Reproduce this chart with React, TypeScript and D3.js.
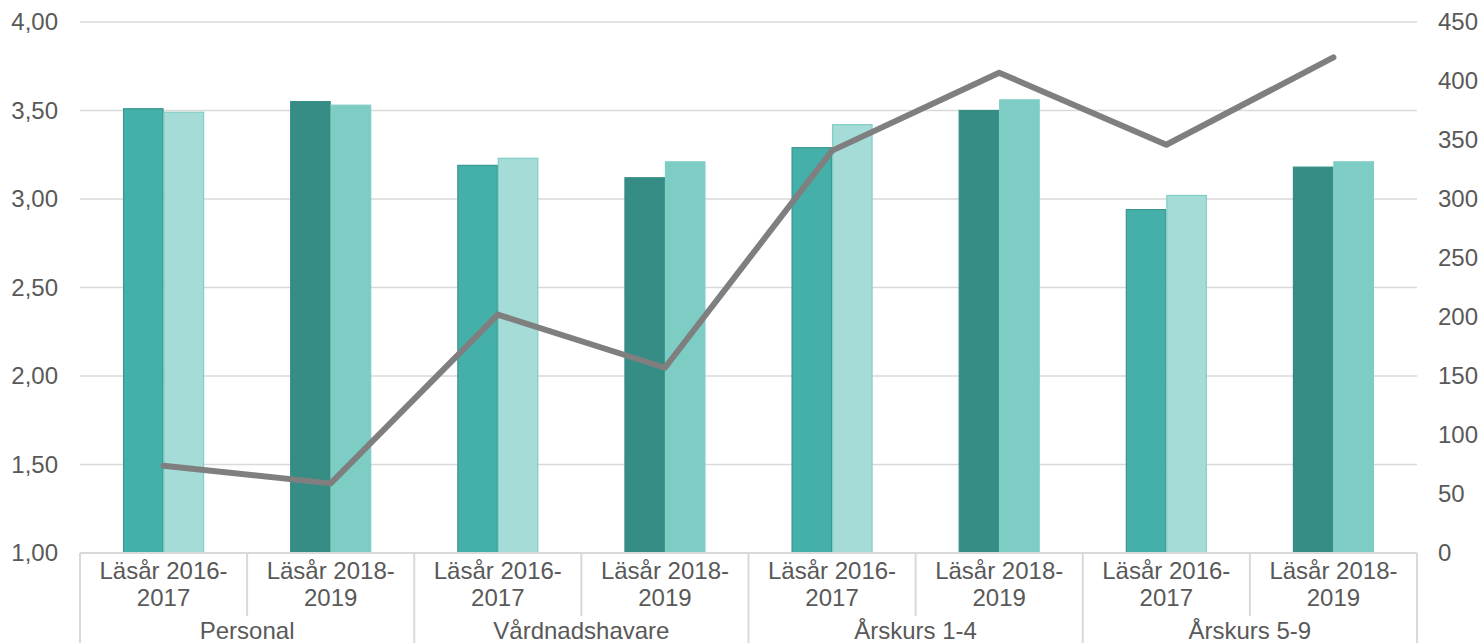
import * as d3 from 'd3';
import React from 'react';

// values
const groups = ['Personal', 'Vårdnadshavare', 'Årskurs 1-4', 'Årskurs 5-9'];
const periods = ['Läsår 2016-2017', 'Läsår 2018-2019'];
const seriesA = [3.51, 3.55, 3.19, 3.12, 3.29, 3.50, 2.94, 3.18];
const seriesB = [3.49, 3.53, 3.23, 3.21, 3.42, 3.56, 3.02, 3.21];
const lineValues = [74, 59, 202, 157, 341, 407, 346, 420];
const leftTicks = [1, 1.5, 2, 2.5, 3, 3.5, 4];
const rightTicks = [0, 50, 100, 150, 200, 250, 300, 350, 400, 450];

// fill / stroke per series and period
const fillA = ['#45b0a9', '#358d85'];
const strokeA = ['#3a968f', '#358d85'];
const fillB = ['#a5dcd8', '#7ecdc5'];
const strokeB = ['#80cdc5', '#7ecdc5'];

const W = 1483;
const H = 643;
const left = 80;
const right = 1417;
const top = 22;
const bottom = 553;
const font = '"Liberation Sans", Arial, sans-serif';
const textColor = '#595959';

export default function App() {
  const cats = groups.flatMap((g) => periods.map((p) => g + '|' + p));

  const x0 = d3.scaleBand().domain(cats).range([left, right]).padding(0);
  const step = x0.step();
  const x1 = d3.scaleBand().domain(['a', 'b'])
      .range([(step - 81) / 2, (step + 81) / 2]);
  const yL = d3.scaleLinear().domain([1, 4]).range([bottom, top]);
  const yR = d3.scaleLinear().domain([0, 450]).range([bottom, top]);

  const line = d3.line<number>()
      .x((d, i) => (x0(cats[i]) as number) + step / 2)
      .y((d) => yR(d));

  const fmt = (v: number) => d3.format('.2f')(v).replace('.', ',');

  const splitLabel = (s: string) => {
    const k = s.lastIndexOf('-');
    return [s.slice(0, k + 1), s.slice(k + 1)];
  };

  return (
    <svg width={W} height={H} style={{position: 'absolute', left: 0, top: 0}}
        fontFamily={font}>
      <rect width={W} height={H} fill='#ffffff' />
      {leftTicks.map((t) => (
        <line key={'g' + t} x1={left} x2={right} y1={yL(t)} y2={yL(t)}
            stroke='#d9d9d9' strokeWidth={1.5} />
      ))}
      {leftTicks.map((t) => (
        <text key={'l' + t} x={58} y={yL(t)} dy='0.35em' textAnchor='end'
            fontSize={24} fill={textColor}>{fmt(t)}</text>
      ))}
      {rightTicks.map((t) => (
        <text key={'r' + t} x={1438} y={yR(t)} dy='0.35em' textAnchor='start'
            fontSize={24} fill={textColor}>{t}</text>
      ))}

      {cats.map((c, i) => {
        const p = i % 2;
        const x = x0(c) as number;
        return (
          <g key={c}>
            <rect x={x + (x1('a') as number) + 0.5} y={yL(seriesA[i])}
                width={x1.bandwidth() - 1} height={bottom - yL(seriesA[i])}
                fill={fillA[p]} stroke={strokeA[p]} strokeWidth={1.2} />
            <rect x={x + (x1('b') as number) + 0.5} y={yL(seriesB[i])}
                width={x1.bandwidth() - 1} height={bottom - yL(seriesB[i])}
                fill={fillB[p]} stroke={strokeB[p]} strokeWidth={1.2} />
          </g>
        );
      })}

      <path d={line(lineValues) as string} fill='none' stroke='#7f7f7f'
          strokeWidth={6} strokeLinecap='round' strokeLinejoin='round' />

      {/* category axis */}
      <line x1={left} x2={right} y1={bottom} y2={bottom} stroke='#d9d9d9'
          strokeWidth={2} />
      {cats.map((c, i) => {
        const x = x0(c) as number;
        return (
          <line key={'t' + c} x1={x} x2={x} y1={bottom}
              y2={i % 2 === 0 ? H : 616} stroke='#d9d9d9' strokeWidth={2} />
        );
      })}
      <line x1={right} x2={right} y1={bottom} y2={H} stroke='#d9d9d9'
          strokeWidth={2} />

      {cats.map((c, i) => {
        const cx = (x0(c) as number) + step / 2;
        const lines = splitLabel(periods[i % 2]);
        return (
          <text key={'c' + c} x={cx} textAnchor='middle' fontSize={24}
              fill={textColor}>
            <tspan x={cx} y={579}>{lines[0]}</tspan>
            <tspan x={cx} y={606}>{lines[1]}</tspan>
          </text>
        );
      })}
      {groups.map((g, gi) => {
        const cx = (x0(cats[gi * 2]) as number) + step;
        return (
          <text key={'grp' + g} x={cx} y={639} textAnchor='middle'
              fontSize={24} fill={textColor}>{g}</text>
        );
      })}
    </svg>
  );
}
